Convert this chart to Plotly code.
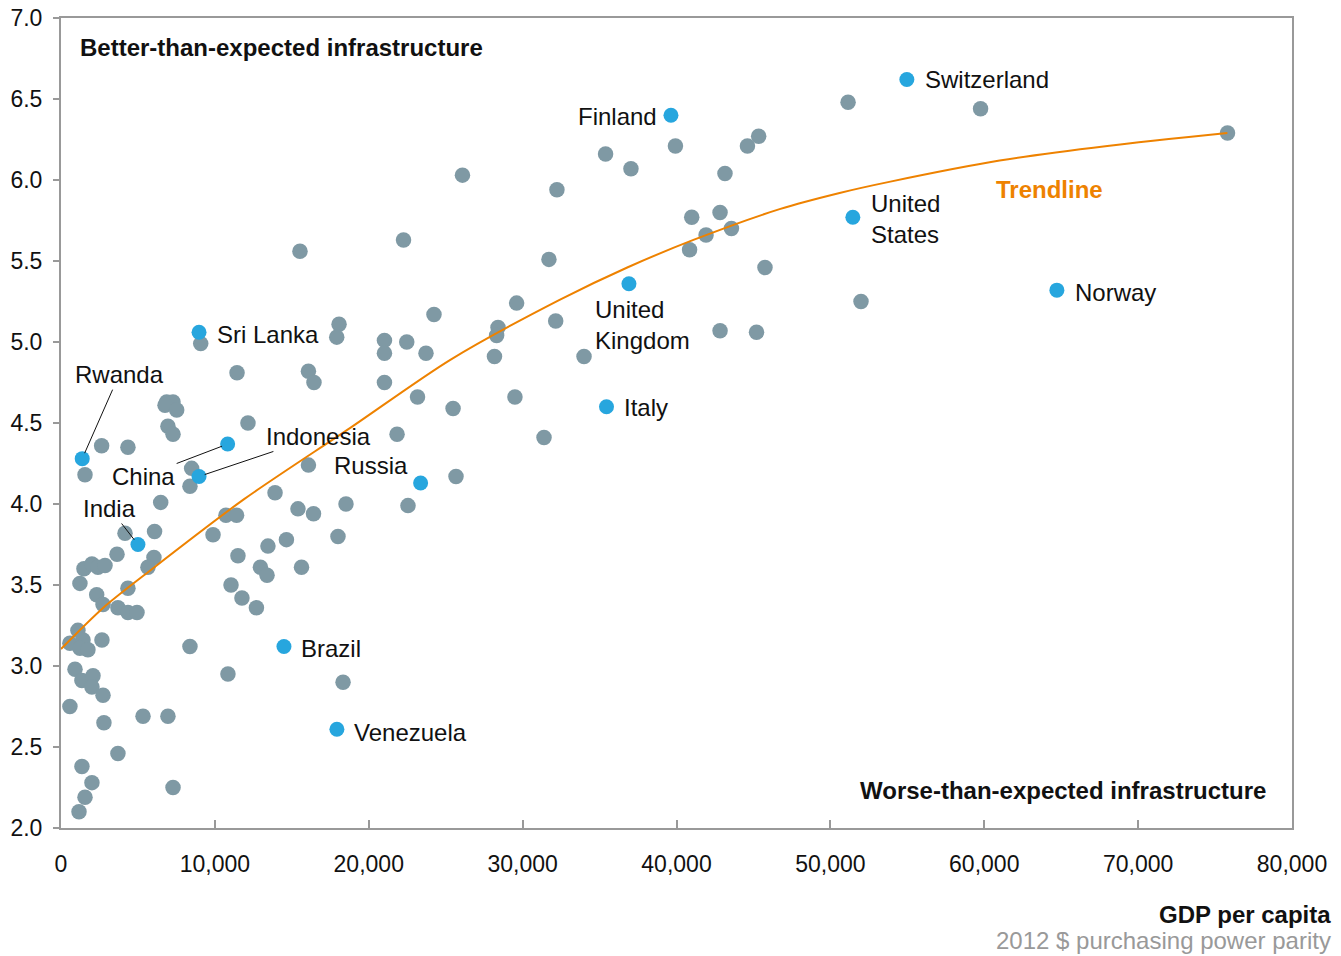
import plotly.graph_objects as go

# ---------------- data ----------------
# Other countries: GDP per capita (2012 $ PPP) and infrastructure score
other_gdp = [51150, 59760, 75810, 45340, 44610, 39930, 35390, 37040, 43150, 26090,
             32230, 40990, 42830, 41920, 43570, 40850, 22260, 15530, 31710, 45750,
             51990, 29610, 24240, 32150, 28400, 28310, 42830, 45200, 18070, 17920,
             21020, 22470, 21020, 23720, 28170, 33990, 9080, 11440, 16080, 16440,
             21020, 23170, 29500, 25480, 6870, 7280, 6760, 7520, 6950, 7280,
             12150, 2640, 4350, 1560, 21840, 31390, 8490, 8380, 16080, 25670,
             13910, 6480, 18520, 22550, 10720, 11410, 15400, 16410, 4160, 6080,
             9880, 18000, 14650, 13450, 3640, 11500, 6040, 5650, 1490, 2010,
             2400, 2860, 12960, 13390, 15630, 1230, 4350, 11050, 2320, 2730,
             3700, 11760, 4350, 4940, 12700, 1100, 580, 1430, 1230, 1750,
             2660, 8380, 910, 1360, 2080, 2010, 2730, 10850, 18330, 580,
             2790, 5330, 6950, 3700, 1360, 2010, 1560, 1170, 7280]
other_score = [6.48, 6.44, 6.29, 6.27, 6.21, 6.21, 6.16, 6.07, 6.04, 6.03,
               5.94, 5.77, 5.80, 5.66, 5.70, 5.57, 5.63, 5.56, 5.51, 5.46,
               5.25, 5.24, 5.17, 5.13, 5.09, 5.04, 5.07, 5.06, 5.11, 5.03,
               5.01, 5.00, 4.93, 4.93, 4.91, 4.91, 4.99, 4.81, 4.82, 4.75,
               4.75, 4.66, 4.66, 4.59, 4.63, 4.63, 4.61, 4.58, 4.48, 4.43,
               4.50, 4.36, 4.35, 4.18, 4.43, 4.41, 4.22, 4.11, 4.24, 4.17,
               4.07, 4.01, 4.00, 3.99, 3.93, 3.93, 3.97, 3.94, 3.82, 3.83,
               3.81, 3.80, 3.78, 3.74, 3.69, 3.68, 3.67, 3.61, 3.60, 3.63,
               3.61, 3.62, 3.61, 3.56, 3.61, 3.51, 3.48, 3.50, 3.44, 3.38,
               3.36, 3.42, 3.33, 3.33, 3.36, 3.22, 3.14, 3.16, 3.11, 3.10,
               3.16, 3.12, 2.98, 2.91, 2.94, 2.87, 2.82, 2.95, 2.90, 2.75,
               2.65, 2.69, 2.69, 2.46, 2.38, 2.28, 2.19, 2.10, 2.25]

# Highlighted countries
hl_names = ["Switzerland", "Finland", "United<br>States", "Norway", "United<br>Kingdom",
            "Italy", "Sri Lanka", "Russia", "Brazil", "Venezuela",
            "Rwanda", "China", "Indonesia", "India"]
hl_gdp = [54970, 39640, 51460, 64720, 36910, 35450, 8970, 23370, 14490, 17930,
          1380, 10830, 8970, 5000]
hl_score = [6.62, 6.40, 5.77, 5.32, 5.36, 4.60, 5.06, 4.13, 3.12, 2.61,
            4.28, 4.37, 4.17, 3.75]

# Trendline
trend_gdp = [0, 2750, 5800, 11900, 18800, 25300, 32400, 36800, 41100, 46700,
             50600, 53900, 61000, 68000, 75800]
trend_score = [3.105, 3.36, 3.59, 4.03, 4.47, 4.89, 5.26, 5.46, 5.63, 5.82,
               5.92, 5.99, 6.12, 6.21, 6.29]

y_ticks = [2.0, 2.5, 3.0, 3.5, 4.0, 4.5, 5.0, 5.5, 6.0, 6.5, 7.0]
x_ticks = [0, 10000, 20000, 30000, 40000, 50000, 60000, 70000, 80000]

# ---------------- styling ----------------
FONT = "Liberation Sans, Arial, sans-serif"
GRAY = "#7f99a4"
BLUE = "#27a6de"
ORANGE = "#ee8200"
AXIS = "#999999"
LABEL_SIZE = 24

# label placement: (xanchor, xshift, yshift) for plain labels; (ax, ay) for leader-line labels
plain_place = {
    "Switzerland": ("left", 16, 0),
    "Finland": ("right", -12, -1),
    "United<br>States": ("left", 16, -2),
    "Norway": ("left", 16, -2),
    "United<br>Kingdom": ("left", -36, -41),
    "Italy": ("left", 16, -1),
    "Sri Lanka": ("left", 16, -2),
    "Russia": ("right", -11, 17),
    "Brazil": ("left", 15, -2),
    "Venezuela": ("left", 15, -3),
}
leader_place = {
    "Rwanda": (37, -84),
    "China": (-84, 32),
    "Indonesia": (119, -40),
    "India": (-28, -36),
}

fig = go.Figure()
fig.add_trace(go.Scatter(x=other_gdp, y=other_score, mode="markers",
                         marker=dict(color=GRAY, size=15.5, line=dict(width=0)),
                         hoverinfo="skip", showlegend=False))
fig.add_trace(go.Scatter(x=trend_gdp, y=trend_score, mode="lines",
                         line=dict(color=ORANGE, width=2, shape="spline", smoothing=0.8),
                         hoverinfo="skip", showlegend=False))
fig.add_trace(go.Scatter(x=hl_gdp, y=hl_score, mode="markers",
                         marker=dict(color=BLUE, size=15, line=dict(width=0)),
                         text=hl_names, hoverinfo="text", showlegend=False))

annotations = []
for name, gx, gy in zip(hl_names, hl_gdp, hl_score):
    if name in plain_place:
        xa, xs, ys = plain_place[name]
        annotations.append(dict(x=gx, y=gy, xref="x", yref="y", text=name,
                                showarrow=False, xanchor=xa, yanchor="middle",
                                align="left", xshift=xs, yshift=ys,
                                font=dict(family=FONT, size=LABEL_SIZE, color="#111111")))
    else:
        ax, ay = leader_place[name]
        annotations.append(dict(x=gx, y=gy, xref="x", yref="y", text=name,
                                showarrow=True, arrowhead=0, arrowwidth=1,
                                arrowcolor="#111111", ax=ax, ay=ay, standoff=6,
                                font=dict(family=FONT, size=LABEL_SIZE, color="#111111")))

annotations += [
    dict(x=0.0138, y=0.963, xref="paper", yref="paper", xanchor="left", yanchor="middle",
         text="<b>Better-than-expected infrastructure</b>", showarrow=False,
         font=dict(family=FONT, size=LABEL_SIZE, color="#111111")),
    dict(x=0.9805, y=0.0457, xref="paper", yref="paper", xanchor="right", yanchor="middle",
         text="<b>Worse-than-expected infrastructure</b>", showarrow=False,
         font=dict(family=FONT, size=LABEL_SIZE, color="#111111")),
    dict(x=0.8034, y=0.7877, xref="paper", yref="paper", xanchor="center", yanchor="middle",
         text="<b>Trendline</b>", showarrow=False,
         font=dict(family=FONT, size=LABEL_SIZE, color=ORANGE)),
    dict(x=1.0335, y=-0.1074, xref="paper", yref="paper", xanchor="right", yanchor="middle",
         text="<b>GDP per capita</b>", showarrow=False,
         font=dict(family=FONT, size=LABEL_SIZE, color="#111111")),
    dict(x=1.0335, y=-0.1395, xref="paper", yref="paper", xanchor="right", yanchor="middle",
         text="2012 $ purchasing power parity", showarrow=False,
         font=dict(family=FONT, size=LABEL_SIZE, color="#999999")),
]

# The page body adds an 8px offset, so margins are shifted by 8px to compensate.
fig.update_layout(
    width=1341, height=956,
    margin=dict(l=53, r=57, t=10, b=136),
    paper_bgcolor="white", plot_bgcolor="white",
    font=dict(family=FONT, size=23, color="#111111"),
    annotations=annotations,
    xaxis=dict(range=[0, 80000], tickvals=x_ticks, tickformat=",", showgrid=False,
               zeroline=False, showline=True, linecolor=AXIS, linewidth=2, mirror=True,
               ticks="inside", ticklen=8, tickcolor=AXIS, tickwidth=1.5, automargin=False,
               ticklabelstandoff=14, ticklabeloverflow="allow",
               tickfont=dict(family=FONT, size=23, color="#111111")),
    yaxis=dict(range=[2, 7], tickvals=y_ticks, tickformat=".1f", showgrid=False,
               zeroline=False, showline=True, linecolor=AXIS, linewidth=2, mirror=True,
               ticks="outside", ticklen=6, tickcolor=AXIS, tickwidth=1.5, automargin=False,
               ticklabelstandoff=6, ticklabeloverflow="allow",
               tickfont=dict(family=FONT, size=23, color="#111111")),
)

fig.write_html("out.html")
